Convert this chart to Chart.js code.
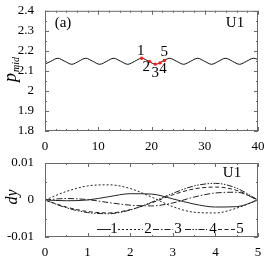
<!DOCTYPE html>
<html><head><meta charset="utf-8">
<script src="https://cdn.jsdelivr.net/npm/chart.js@4"></script>
<style>
body{margin:0;background:#fff;width:270px;height:257px;overflow:hidden}
canvas{display:block}
</style></head><body>
<canvas id="c1" width="270" height="150"></canvas>
<canvas id="c2" width="270" height="107"></canvas>
<script>
// ---------- data: top panel (p_mid vs time) ----------
const timeT = [0,1.09,2.4,3.71,5.03,6.34,7.65,8.96,10.28,11.59,12.9,14.21,15.53,16.84,18.15,19.46,20.78,22.09,23.4,24.71,26.03,27.34,28.65,29.96,31.28,32.59,33.9,35.21,36.53,37.84,39.15,40];
const pmidV = [2.134,2.148,2.163,2.148,2.133,2.148,2.163,2.148,2.133,2.148,2.163,2.148,2.133,2.148,2.163,2.148,2.133,2.148,2.163,2.148,2.133,2.148,2.163,2.148,2.133,2.148,2.163,2.148,2.133,2.148,2.163,2.157];
const markT = [18.15,19.6,20.7,21.6,22.4];
const markP = [2.163,2.147,2.134,2.140,2.152];
const markLabels = ['1','2','3','4','5'];
const topXTicks = [0,10,20,30,40];
const topYTicks = [1.8,1.9,2.0,2.1,2.2,2.3,2.4];
const topYTickLabels = ['1.8','1.9','2','2.1','2.2','2.3','2.4'];

// ---------- data: bottom panel (dy vs x) ----------
const xPos = [0,0.5,1,1.5,2,2.5,3,3.5,4,4.5,5];
const dy1 = [0,-0.0002,0.0000,0.0009,0.0017,0.0016,0.0003,-0.0011,-0.0019,-0.0018,0];
const dy2 = [0,0.0023,0.0038,0.0041,0.0031,0.0008,-0.0018,-0.0033,-0.0035,-0.0022,0];
const dy3 = [0,0.0004,0.0001,-0.0007,-0.0014,-0.0016,-0.0008,0.0008,0.0019,0.0021,0];
const dy4 = [0,-0.0021,-0.0034,-0.0037,-0.0027,-0.0006,0.0018,0.0038,0.0045,0.0032,0];
const dy5 = [0,-0.0019,-0.0031,-0.0035,-0.0026,-0.0008,0.0014,0.0030,0.0035,0.0026,0];
const seriesNames = ['1','2','3','4','5'];
const botXTicks = [0,1,2,3,4,5];
const botYTicks = [-0.01,0,0.01];
const botYTickLabels = ['-0.01','0','0.01'];

const SERIF = '"Liberation Serif","Times New Roman",serif';
const AXC = '#6a6a6a';

function pts(xs, ys){ return xs.map((x,i)=>({x:x,y:ys[i]})); }

// frame + inward ticks plugin
const framePlugin = {
  id:'frame',
  afterDraw(chart, args, opts){
    const ctx = chart.ctx, a = chart.chartArea;
    const xs = chart.scales.x, ys = chart.scales.y;
    ctx.save();
    ctx.strokeStyle = AXC; ctx.lineWidth = 1;
    ctx.strokeRect(a.left+0.5, a.top+0.5, a.right-a.left-1, a.bottom-a.top-1);
    ctx.beginPath();
    const tick = (vals, len, horiz) => {
      vals.forEach(v=>{
        if (horiz){
          const p = Math.round(xs.getPixelForValue(v))+0.5;
          ctx.moveTo(p,a.bottom); ctx.lineTo(p,a.bottom-len);
          ctx.moveTo(p,a.top); ctx.lineTo(p,a.top+len);
        } else {
          const p = Math.round(ys.getPixelForValue(v))+0.5;
          ctx.moveTo(a.left,p); ctx.lineTo(a.left+len,p);
          ctx.moveTo(a.right,p); ctx.lineTo(a.right-len,p);
        }
      });
    };
    tick(opts.xMajor,4,true); tick(opts.xMinor,2,true);
    tick(opts.yMajor,4,false); tick(opts.yMinor,2,false);
    ctx.stroke();
    ctx.restore();
  }
};

function range(a,b,s){ const r=[]; for(let v=a; v<=b+1e-9; v+=s) r.push(+v.toFixed(6)); return r; }

// ---------- top chart ----------
const labelOffsets = [[-1,-7],[-3,6],[0,9],[3,6],[0,-8]];
new Chart(document.getElementById('c1'), {
  type:'line',
  data:{datasets:[
    {data:pts(timeT,pmidV), borderColor:'#111', borderWidth:1, pointRadius:0, cubicInterpolationMode:'monotone', fill:false, order:2},
    {data:pts(markT,markP), showLine:false, pointRadius:1.7, pointBackgroundColor:'#ff1a1a', pointBorderWidth:0, order:1}
  ]},
  options:{
    responsive:false, animation:false, devicePixelRatio:1,
    layout:{padding:{top:7,right:12,left:0,bottom:0}},
    plugins:{legend:{display:false}, tooltip:{enabled:false},
      frame:{xMajor:topXTicks, xMinor:range(0,40,2), yMajor:topYTicks, yMinor:range(1.85,2.35,0.1)}},
    scales:{
      x:{type:'linear', min:0, max:40, grid:{display:false}, border:{display:false},
        afterBuildTicks:s=>{s.ticks=topXTicks.map(v=>({value:v}));},
        afterFit:s=>{s.height=19;},
        ticks:{color:'#000', font:{family:SERIF,size:13}, padding:0, maxRotation:0, autoSkip:false}},
      y:{type:'linear', min:1.8, max:2.4, grid:{display:false}, border:{display:false},
        afterBuildTicks:s=>{s.ticks=topYTicks.map(v=>({value:v}));},
        afterFit:s=>{s.width=45;},
        ticks:{color:'#000', font:{family:SERIF,size:13}, padding:3, autoSkip:false,
          callback:(v,i)=>topYTickLabels[i]}}
    }
  },
  plugins:[framePlugin,{
    id:'ann1',
    afterDraw(chart){
      const ctx=chart.ctx, xs=chart.scales.x, ys=chart.scales.y;
      ctx.save();
      ctx.fillStyle='#000';
      ctx.textAlign='center'; ctx.textBaseline='middle';
      ctx.font='15px '+SERIF;
      markLabels.forEach((t,i)=>{
        ctx.fillText(t, xs.getPixelForValue(markT[i])+labelOffsets[i][0], ys.getPixelForValue(markP[i])+labelOffsets[i][1]);
      });
      ctx.fillText('(a)', 63, 23);
      ctx.fillText('U1', 235, 23);
      // y title p_mid
      ctx.translate(14, 72);
      ctx.rotate(-Math.PI/2);
      ctx.textAlign='left'; ctx.textBaseline='alphabetic';
      ctx.font='italic 18px '+SERIF;
      ctx.fillText('p', -10, 2);
      ctx.font='italic 10px '+SERIF;
      ctx.fillText('mid', 0, 5);
      ctx.restore();
    }
  }]
});

// ---------- bottom chart ----------
const dashes = [[], [2,2], [6,2,1.5,2], [6,1.5,1.5,1.5,1.5,1.5], [4,2.5]];
const dyAll = [dy1,dy2,dy3,dy4,dy5];
new Chart(document.getElementById('c2'), {
  type:'line',
  data:{datasets: dyAll.map((d,i)=>({label:seriesNames[i], data:pts(xPos,d), borderColor:'#222', borderWidth:1,
     borderDash:dashes[i], pointRadius:0, cubicInterpolationMode:'monotone', fill:false}))},
  options:{
    responsive:false, animation:false, devicePixelRatio:1,
    layout:{padding:{top:13,right:12,left:0,bottom:0}},
    plugins:{legend:{display:false}, tooltip:{enabled:false},
      frame:{xMajor:botXTicks, xMinor:range(0.5,4.5,1), yMajor:botYTicks, yMinor:[-0.005,0.005]}},
    scales:{
      x:{type:'linear', min:0, max:5, grid:{display:false}, border:{display:false},
        afterBuildTicks:s=>{s.ticks=botXTicks.map(v=>({value:v}));},
        afterFit:s=>{s.height=20;},
        ticks:{color:'#000', font:{family:SERIF,size:13}, padding:0, maxRotation:0, autoSkip:false}},
      y:{type:'linear', min:-0.01, max:0.01, grid:{display:false}, border:{display:false},
        afterBuildTicks:s=>{s.ticks=botYTicks.map(v=>({value:v}));},
        afterFit:s=>{s.width=45;},
        ticks:{color:'#000', font:{family:SERIF,size:13}, padding:3, autoSkip:false,
          callback:(v,i)=>botYTickLabels[i]}}
    }
  },
  plugins:[framePlugin,{
    id:'ann2',
    afterDraw(chart){
      const ctx=chart.ctx;
      ctx.save();
      ctx.fillStyle='#000';
      ctx.font='15px '+SERIF;
      ctx.textAlign='center'; ctx.textBaseline='middle';
      ctx.fillText('U1', 232, 23);
      // legend
      const items=[[97,111,114],[118,143,148],[153,173,178],[185,207,213],[218,235,240]];
      const ly=79;
      items.forEach((it,i)=>{
        ctx.save();
        ctx.strokeStyle='#222'; ctx.lineWidth=1; ctx.setLineDash(dashes[i]);
        ctx.beginPath(); ctx.moveTo(it[0],ly+0.5); ctx.lineTo(it[1],ly+0.5); ctx.stroke();
        ctx.restore();
        ctx.fillText(seriesNames[i], it[2], ly);
      });
      ctx.translate(13, 47);
      ctx.rotate(-Math.PI/2);
      ctx.font='italic 16px '+SERIF;
      ctx.fillText('dy', 0, 0);
      ctx.restore();
    }
  }]
});
</script>
</body></html>
